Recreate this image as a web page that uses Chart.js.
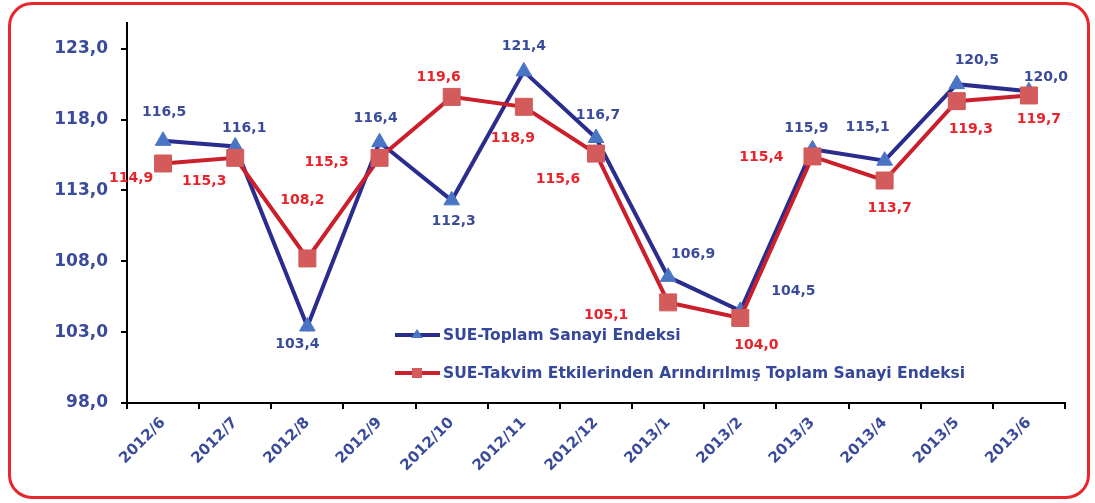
<!DOCTYPE html>
<html>
<head>
<meta charset="utf-8">
<script src="https://cdn.jsdelivr.net/npm/chart.js@4/dist/chart.umd.min.js"></script>
<style>
    body { margin: 0; background: #fff; }
    #wrap { position: relative; width: 1095px; height: 503px; }
    #frame {
        position: absolute; left: 8px; top: 2px; width: 1082px; height: 497px;
        box-sizing: border-box; border: 3px solid #e8262c; border-radius: 24px;
    }
    #chart { position: absolute; left: 0; top: 0; }
</style>
</head>
<body>
<div id="wrap">
    <div id="frame"></div>
    <canvas id="chart" width="1095" height="503"></canvas>
</div>
<script>
// months on the x axis
const months = ['2012/6', '2012/7', '2012/8', '2012/9', '2012/10', '2012/11', '2012/12',
    '2013/1', '2013/2', '2013/3', '2013/4', '2013/5', '2013/6'];

// SUE-Toplam Sanayi Endeksi
const totalIndex = [116.5, 116.1, 103.4, 116.4, 112.3, 121.4, 116.7, 106.9, 104.5, 115.9, 115.1, 120.5, 120.0];

// SUE-Takvim Etkilerinden Arındırılmış Toplam Sanayi Endeksi
const adjustedIndex = [114.9, 115.3, 108.2, 115.3, 119.6, 118.9, 115.6, 105.1, 104.0, 115.4, 113.7, 119.3, 119.7];

const yTicks = [98, 103, 108, 113, 118, 123];

const seriesNames = ['SUE-Toplam Sanayi Endeksi', 'SUE-Takvim Etkilerinden Arındırılmış Toplam Sanayi Endeksi'];

// where each value label sits relative to its point (px)
const blueLabelOffsets = [[1, -28], [9, -18], [-10, 18], [-4, -24], [2, 21], [0, -25], [2, -23],
    [25, -23], [53, -20], [-6, -21], [-17, -33], [20, -24], [17, -14]];
const redLabelOffsets = [[-32, 15], [-31, 24], [-5, -58], [-53, 5], [-13, -20], [-11, 32], [-38, 26],
    [-62, 13], [16, 27], [-51, 1], [5, 28], [14, 28], [10, 24]];

const BLUE_LINE = '#2b2d8e';
const BLUE_MARK = '#4a74c4';
const BLUE_TEXT = '#3a4b9b';
const RED_LINE = '#cc1f2c';
const RED_MARK = '#d35b5b';
const RED_TEXT = '#e8232a';
const FONT = '"DejaVu Sans", sans-serif';

function fmt(v) {
    return v.toFixed(1).replace('.', ',');
}

// value labels next to every point
const pointLabels = {
    id: 'pointLabels',
    afterDatasetsDraw(chart) {
        const ctx = chart.ctx;
        ctx.save();
        ctx.font = 'bold 14px ' + FONT;
        ctx.textAlign = 'center';
        ctx.textBaseline = 'middle';
        chart.data.datasets.forEach((ds, i) => {
            const meta = chart.getDatasetMeta(i);
            ctx.fillStyle = ds.labelColor;
            meta.data.forEach((pt, j) => {
                const off = ds.labelOffsets[j];
                ctx.fillText(fmt(ds.data[j]), pt.x + off[0], pt.y + off[1]);
            });
        });
        ctx.restore();
    }
};

// legend drawn inside the plot, two rows
const innerLegend = {
    id: 'innerLegend',
    afterDraw(chart) {
        const ctx = chart.ctx;
        const rows = [
            { y: 335, line: BLUE_LINE, mark: BLUE_MARK, shape: 'triangle', text: seriesNames[0] },
            { y: 373, line: RED_LINE, mark: RED_MARK, shape: 'rect', text: seriesNames[1] }
        ];
        ctx.save();
        rows.forEach(r => {
            ctx.strokeStyle = r.line;
            ctx.lineWidth = 4;
            ctx.beginPath();
            ctx.moveTo(395, r.y);
            ctx.lineTo(440, r.y);
            ctx.stroke();
            ctx.fillStyle = r.mark;
            ctx.beginPath();
            if (r.shape === 'triangle') {
                ctx.moveTo(417, r.y - 6);
                ctx.lineTo(423, r.y + 3);
                ctx.lineTo(411, r.y + 3);
                ctx.closePath();
            } else {
                ctx.rect(412, r.y - 5, 10, 10);
            }
            ctx.fill();
            ctx.fillStyle = '#34479a';
            ctx.font = 'bold 15.5px ' + FONT;
            ctx.textAlign = 'left';
            ctx.textBaseline = 'middle';
            ctx.fillText(r.text, 443, r.y + 1);
        });
        ctx.restore();
    }
};

new Chart(document.getElementById('chart'), {
    type: 'line',
    data: {
        labels: months,
        datasets: [
            {
                label: seriesNames[0],
                data: totalIndex,
                borderColor: BLUE_LINE,
                borderWidth: 4,
                pointStyle: 'triangle',
                pointRadius: 9,
                pointBackgroundColor: BLUE_MARK,
                pointBorderColor: BLUE_MARK,
                pointBorderWidth: 1,
                tension: 0,
                order: 2,
                labelColor: BLUE_TEXT,
                labelOffsets: blueLabelOffsets
            },
            {
                label: seriesNames[1],
                data: adjustedIndex,
                borderColor: RED_LINE,
                borderWidth: 4,
                pointStyle: 'rect',
                pointRadius: 12,
                pointBackgroundColor: RED_MARK,
                pointBorderColor: RED_MARK,
                pointBorderWidth: 1,
                tension: 0,
                order: 1,
                labelColor: RED_TEXT,
                labelOffsets: redLabelOffsets
            }
        ]
    },
    options: {
        responsive: false,
        animation: false,
        devicePixelRatio: 1,
        layout: { padding: { top: 22, right: 30, left: 0, bottom: 0 } },
        plugins: {
            legend: { display: false },
            tooltip: { enabled: false }
        },
        scales: {
            x: {
                offset: true,
                grid: { offset: true, drawOnChartArea: false, drawTicks: true, tickLength: 6, color: '#000', lineWidth: 2 },
                border: { color: '#000', width: 2 },
                ticks: {
                    autoSkip: false, maxRotation: 45, minRotation: 45, padding: 5,
                    color: BLUE_TEXT, font: { family: FONT, size: 15, weight: 'bold' }
                },
                afterFit(s) { s.height = 100; }
            },
            y: {
                min: 98,
                max: 124.8,
                grid: { drawOnChartArea: false, drawTicks: true, tickLength: 6, color: '#000', lineWidth: 2 },
                border: { color: '#000', width: 2 },
                ticks: {
                    padding: 13, color: BLUE_TEXT,
                    font: { family: FONT, size: 17, weight: 'bold' },
                    callback: v => fmt(v)
                },
                afterBuildTicks(s) { s.ticks = yTicks.map(v => ({ value: v })); },
                afterFit(s) { s.width = 127; }
            }
        }
    },
    plugins: [pointLabels, innerLegend]
});
</script>
</body>
</html>
